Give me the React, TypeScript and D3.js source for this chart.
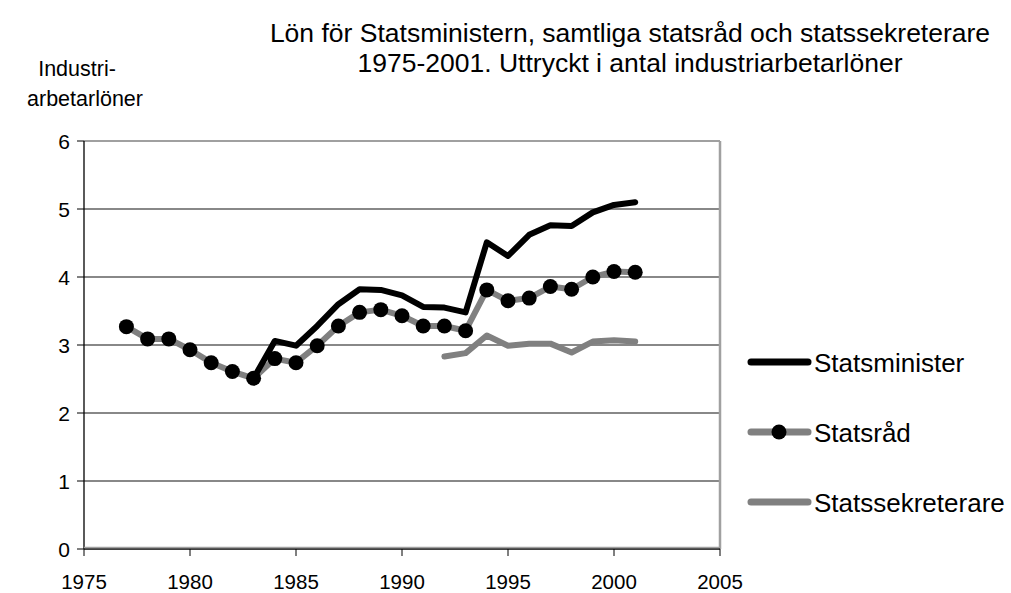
import React from "react";
import { scaleLinear, line } from "d3";

const width = 1011;
const height = 593;

const margin = { top: 141, right: 291, bottom: 44, left: 84 };
const innerWidth = width - margin.left - margin.right;
const innerHeight = height - margin.top - margin.bottom;

// series values (year, industriarbetarlöner)
const statsminister: [number, number][] = [
  [1983, 2.51], [1984, 3.06], [1985, 2.99], [1986, 3.28], [1987, 3.6],
  [1988, 3.82], [1989, 3.81], [1990, 3.73], [1991, 3.56], [1992, 3.55],
  [1993, 3.48], [1994, 4.51], [1995, 4.31], [1996, 4.62], [1997, 4.76],
  [1998, 4.75], [1999, 4.95], [2000, 5.06], [2001, 5.1],
];
const statsrad: [number, number][] = [
  [1977, 3.27], [1978, 3.09], [1979, 3.09], [1980, 2.93], [1981, 2.74],
  [1982, 2.61], [1983, 2.51], [1984, 2.8], [1985, 2.74], [1986, 2.99],
  [1987, 3.28], [1988, 3.48], [1989, 3.52], [1990, 3.43], [1991, 3.28],
  [1992, 3.28], [1993, 3.21], [1994, 3.81], [1995, 3.65], [1996, 3.69],
  [1997, 3.86], [1998, 3.82], [1999, 4.0], [2000, 4.08], [2001, 4.07],
];
const statssekreterare: [number, number][] = [
  [1992, 2.83], [1993, 2.88], [1994, 3.14], [1995, 2.99], [1996, 3.02],
  [1997, 3.02], [1998, 2.89], [1999, 3.05], [2000, 3.07], [2001, 3.05],
];

const xTicks = [1975, 1980, 1985, 1990, 1995, 2000, 2005];
const yTicks = [0, 1, 2, 3, 4, 5, 6];

const font = "'Liberation Sans', Arial, sans-serif";

export default function App() {
  const xScale = scaleLinear().domain([1975, 2005]).range([0, innerWidth]);
  const yScale = scaleLinear().domain([0, 6]).range([innerHeight, 0]);

  const path = line<[number, number]>()
    .x((d) => xScale(d[0]))
    .y((d) => yScale(d[1]));

  const legend = [
    { label: "Statsminister", color: "#000", dot: false },
    { label: "Statsråd", color: "#808080", dot: true },
    { label: "Statssekreterare", color: "#808080", dot: false },
  ];

  return (
    <svg width={width} height={height} style={{ position: "absolute", left: 0, top: 0, fontFamily: font }}>
      <rect width={width} height={height} fill="#fff" />
      {/* title */}
      <text x={630} y={42} fontSize={26.5} textAnchor="middle">
        Lön för Statsministern, samtliga statsråd och statssekreterare
      </text>
      <text x={630} y={72} fontSize={26.5} textAnchor="middle">
        1975-2001. Uttryckt i antal industriarbetarlöner
      </text>
      <text x={77} y={76} fontSize={21.5} textAnchor="middle">Industri-</text>
      <text x={85} y={106} fontSize={21.5} textAnchor="middle">arbetarlöner</text>

      <g transform={`translate(${margin.left}, ${margin.top})`}>
        {/* grid */}
        {yTicks.map((t) => (
          <g key={t} transform={`translate(0, ${yScale(t)})`}>
            {t > 0 && <line x2={innerWidth} stroke={t === 6 ? "#a0a0a0" : "#606060"} strokeWidth={t === 6 ? 2 : 1.3} />}
            <line x1={-7} x2={0} stroke="#000" />
            <text x={-14} dy=".36em" fontSize={21} textAnchor="end">{t}</text>
          </g>
        ))}
        <line x1={innerWidth} x2={innerWidth} y1={0} y2={innerHeight} stroke="#a0a0a0" strokeWidth={2.5} />
        <line x1={0} x2={0} y1={0} y2={innerHeight} stroke="#000" strokeWidth={1.3} />
        <line x1={0} x2={innerWidth} y1={innerHeight} y2={innerHeight} stroke="#000" strokeWidth={1.3} />
        <line x1={0} x2={innerWidth} y1={innerHeight - 1.5} y2={innerHeight - 1.5} stroke="#a0a0a0" strokeWidth={1.3} />
        {xTicks.map((t) => (
          <g key={t} transform={`translate(${xScale(t)}, ${innerHeight})`}>
            <line y2={7} stroke="#000" />
            <text y={40} fontSize={20.5} textAnchor="middle">{t}</text>
          </g>
        ))}

        {/* marks */}
        <path d={path(statssekreterare) ?? ""} fill="none" stroke="#808080" strokeWidth={6} strokeLinejoin="round" strokeLinecap="round" />
        <path d={path(statsrad) ?? ""} fill="none" stroke="#808080" strokeWidth={6} strokeLinejoin="round" strokeLinecap="round" />
        {statsrad.map((d) => (
          <circle key={d[0]} cx={xScale(d[0])} cy={yScale(d[1])} r={7.5} fill="#000" />
        ))}
        <path d={path(statsminister) ?? ""} fill="none" stroke="#000" strokeWidth={6} strokeLinejoin="round" strokeLinecap="round" />
      </g>

      {/* legend */}
      {legend.map((l, i) => {
        const y = 362 + i * 70;
        return (
          <g key={l.label}>
            <line x1={751} x2={808} y1={y} y2={y} stroke={l.color} strokeWidth={7} strokeLinecap="round" />
            {l.dot && <circle cx={779} cy={y} r={7.5} fill="#000" />}
            <text x={814} y={y + 10} fontSize={26} >{l.label}</text>
          </g>
        );
      })}
    </svg>
  );
}
